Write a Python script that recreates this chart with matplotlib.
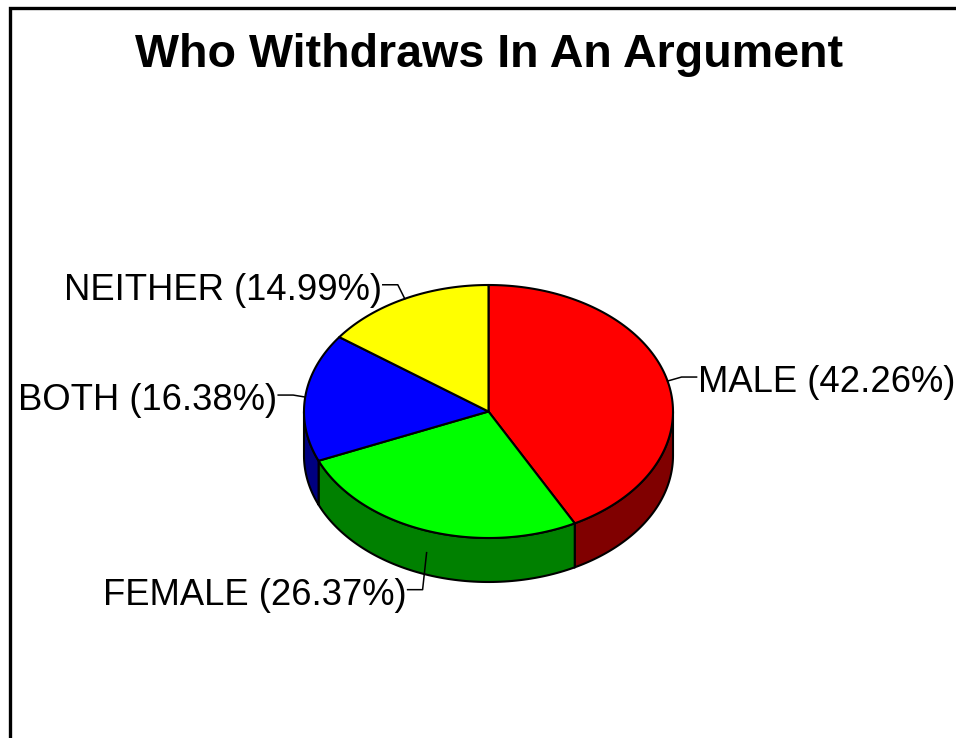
import numpy as np
import matplotlib.pyplot as plt
from matplotlib.patches import Polygon

plt.rcParams['font.family'] = ['Liberation Sans', 'DejaVu Sans']

labels = ['MALE', 'FEMALE', 'BOTH', 'NEITHER']
shares = [42.26, 26.37, 16.38, 14.99]
top_colors = ['#ff0000', '#00ff00', '#0000ff', '#ffff00']
side_colors = ['#800000', '#008000', '#000080', '#808000']

# pie geometry in pixels (y grows downward)
cx, cy, rx, ry, depth = 488.5, 411.5, 184.5, 126.5, 44
# elbow offset of each leader line from its anchor on the pie
elbows = [(14, -4), (-4, 37), (-12, -2), (-7, -14)]


def ell(t):
    t = np.radians(t)
    return cx + rx * np.cos(t), cy - ry * np.sin(t)


fig = plt.figure(figsize=(9.56, 7.38), dpi=100)
ax = fig.add_axes([0, 0, 1, 1])
ax.set_xlim(0, 956)
ax.set_ylim(738, 0)
ax.axis('off')

# frame around the chart (left and top edges show)
ax.plot([10.5, 10.5, 960], [740, 7.5, 7.5], color='black', lw=2.4,
        solid_joinstyle='miter', clip_on=False)

ax.text(489, 67, 'Who Withdraws In An Argument', ha='center', va='baseline',
        fontsize=33.6, fontweight='bold')

# slice angles: start at 12 o'clock, run clockwise
ends = 90 - np.cumsum(shares) / 100 * 360
starts = np.concatenate([[90], ends[:-1]])

# side walls of the front half
for s, e, col in zip(starts, ends, side_colors):
    a, b = max(e, -180), min(s, 0)
    if a >= b:
        continue
    t = np.linspace(a, b, 80)
    x, y = ell(t)
    xs = np.concatenate([x, x[::-1]])
    ys = np.concatenate([y, y[::-1] + depth])
    ax.add_patch(Polygon(np.column_stack([xs, ys]), closed=True,
                         facecolor=col, edgecolor='black', lw=1.5))

# top face
for s, e, col in zip(starts, ends, top_colors):
    t = np.linspace(e, s, 120)
    x, y = ell(t)
    xs = np.concatenate([[cx], x])
    ys = np.concatenate([[cy], y])
    ax.add_patch(Polygon(np.column_stack([xs, ys]), closed=True,
                         facecolor=col, edgecolor='black', lw=1.5,
                         joinstyle='round'))

# labels with leader lines
for lab, v, s, e, (dx, dy) in zip(labels, shares, starts, ends, elbows):
    mid = (s + e) / 2
    ax0, ay0 = ell(mid)
    if np.sin(np.radians(mid)) < 0:
        ay0 += depth / 2
    bx, by = ax0 + dx, ay0 + dy
    right = np.cos(np.radians(mid)) > 0
    tx = bx + 15 if right else bx - 15
    ax.plot([ax0, bx, tx], [ay0, by, by], color='black', lw=1.1)
    ax.text(tx + (1 if right else -1), by + 15, f'{lab} ({v:.2f}%)',
            ha='left' if right else 'right', va='baseline', fontsize=26.2)

fig.savefig('out.png', dpi=100)
